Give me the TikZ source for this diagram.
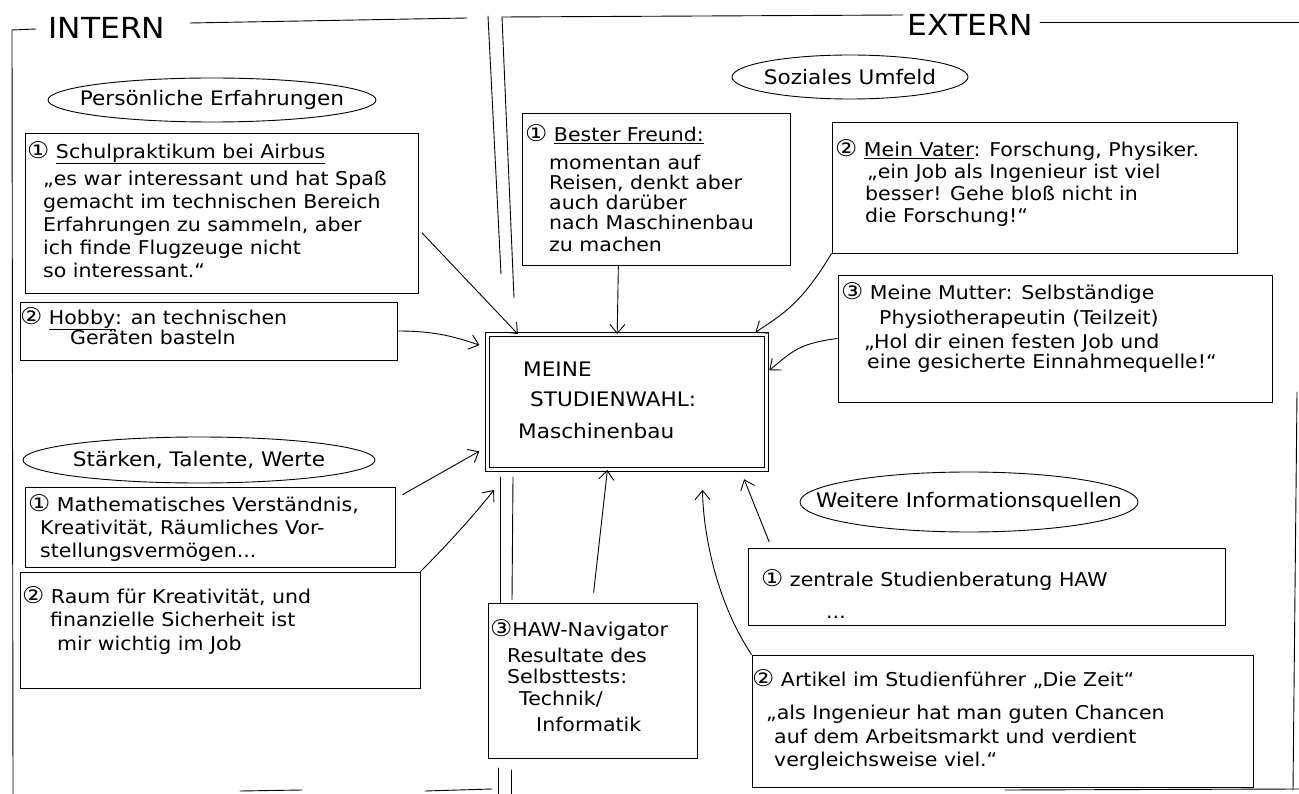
\documentclass[tikz,border=0pt]{standalone}
\usepackage{fontspec}
\setmainfont{DejaVu Sans}[FakeStretch=1.08]
\usetikzlibrary{calc,arrows.meta}

\newcommand{\nummer}[1]{{\fontsize{23}{23}\selectfont #1}}

\tikzset{
    strich/.style={line width=0.9pt, line cap=round},
    kasten/.style={draw, line width=0.9pt, inner sep=0pt},
    notiz/.style={anchor=north west, inner sep=0pt, align=left, font=\fontsize{19}{23}\selectfont},
    titel/.style={inner sep=0pt, font=\fontsize{20}{22}\selectfont},
    kopf/.style={inner sep=0pt, font=\fontsize{29}{30}\selectfont},
    pfeil/.style={-{Straight Barb[length=9pt,width=15pt]}, line width=0.9pt}
}

\begin{document}
\begin{tikzpicture}[x=1pt, y=-1pt]
    \useasboundingbox (0,0) rectangle (1299,794);
    \node [kopf] (intern) at (107,28) {INTERN};
    \node [kopf] (extern) at (970,25) {EXTERN};
    \draw [strich] (13,794) -- (12,30) -- (36,29);
    \draw [strich] (190,23) -- (467,18);
    \draw [strich] (488,16) -- (501,274);
    \draw [strich] (500,477) -- (500,603);
    \draw [strich] (498,768) -- (498,794);
    \draw [strich] (240,791) -- (302,790);
    \draw [strich] (425,791) -- (492,789);
    \draw [strich] (502,17) -- (903,15);
    \draw [strich] (1040,22) -- (1299,22);
    \draw [strich] (502,17) -- (514,298);
    \draw [strich] (513,477) -- (512,600);
    \draw [strich] (511,770) -- (511,794);
    \draw [strich] (1297,392) -- (1293,790);
    \draw [strich] (1005,790) -- (1299,789);

    \node [kasten, double, double distance=3pt, minimum width=279, minimum height=135] (wahl) at (627,402) {};
    \node [notiz, font=\fontsize{20}{30}\selectfont] (wahltext) at (518,362)
        {\hspace*{5pt}MEINE\\\hspace*{12pt}STUDIENWAHL:\\[2pt]Maschinenbau};

    \node [titel] (erfahrung) at (212,100) {Persönliche Erfahrungen};
    \draw [strich] (erfahrung) ellipse [x radius=164, y radius=22];
    \node [titel] (umfeld) at (850,77) {Soziales Umfeld};
    \draw [strich] (umfeld) ellipse [x radius=118, y radius=22];
    \node [titel] (staerken) at (199,460) {Stärken, Talente, Werte};
    \draw [strich] (staerken) ellipse [x radius=176, y radius=23];
    \node [titel] (quellen) at (969,502) {Weitere Informationsquellen};
    \draw [strich] (quellen) ellipse [x radius=169, y radius=30];

    \node [kasten, minimum width=393, minimum height=160] (praktikum) at (221.5,213) {};
    \node [notiz] (praktikumtext) at (27,141)
        {\nummer{①} \underline{Schulpraktikum bei Airbus}\\[4pt]\hspace*{16pt}„es war interessant und hat Spaß\\\hspace*{16pt}gemacht im technischen Bereich\\\hspace*{16pt}Erfahrungen zu sammeln, aber\\\hspace*{16pt}ich finde Flugzeuge nicht\\\hspace*{16pt}so interessant.“};
    \node [kasten, minimum width=377, minimum height=58] (hobby) at (208.5,331) {};
    \node [notiz] (hobbytext) at (20,307)
        {\nummer{②} \underline{Hobby}: an technischen\\[-3pt]\hspace*{50pt}Geräten basteln};
    \node [kasten, minimum width=370, minimum height=80] (mathe) at (210,527) {};
    \node [notiz] (mathetext) at (28,494)
        {\nummer{①} Mathematisches Verständnis,\\\hspace*{12pt}Kreativität, Räumliches Vor-\\\hspace*{12pt}stellungsvermögen...};
    \node [kasten, minimum width=400, minimum height=116] (raum) at (220,630) {};
    \node [notiz] (raumtext) at (22,586)
        {\nummer{②} Raum für Kreativität, und\\\hspace*{28pt}finanzielle Sicherheit ist\\[1pt]\hspace*{35pt}mir wichtig im Job};

    \node [kasten, minimum width=268, minimum height=152] (freund) at (656,189) {};
    \node [notiz] (freundtext) at (525,124)
        {\nummer{①} \underline{Bester Freund:}\\[5pt]\hspace*{24pt}momentan auf\\[-3pt]\hspace*{24pt}Reisen, denkt aber\\[-3pt]\hspace*{24pt}auch darüber\\[-3pt]\hspace*{24pt}nach Maschinenbau\\[-1pt]\hspace*{24pt}zu machen};
    \node [kasten, minimum width=405, minimum height=131] (vater) at (1034.5,187.5) {};
    \node [notiz] (vatertext) at (835,139)
        {\nummer{②} \underline{Mein Vater}: Forschung, Physiker.\\[-1pt]\hspace*{32pt}„ein Job als Ingenieur ist viel\\[-1pt]\hspace*{30pt}besser! Gehe bloß nicht in\\[-1pt]\hspace*{30pt}die Forschung!“};
    \node [kasten, minimum width=434, minimum height=127] (mutter) at (1055,338.5) {};
    \node [notiz] (muttertext) at (841,282)
        {\nummer{③} Meine Mutter: Selbständige\\[2pt]\hspace*{38pt}Physiotherapeutin (Teilzeit)\\[1pt]\hspace*{23pt}„Hol dir einen festen Job und\\[-3pt]\hspace*{26pt}eine gesicherte Einnahmequelle!“};

    \node [kasten, minimum width=209, minimum height=155] (navigator) at (592.5,680.5) {};
    \node [notiz] (navigatortext) at (490,619)
        {\nummer{③}HAW-Navigator\\[3pt]\hspace*{17pt}Resultate des\\[-2pt]\hspace*{17pt}Selbsttests:\\[-1pt]\hspace*{29pt}Technik/\\[3pt]\hspace*{46pt}Informatik};
    \node [kasten, minimum width=477, minimum height=77] (beratung) at (986.5,586.5) {};
    \node [notiz] (beratungtext) at (761,569)
        {\nummer{①} zentrale Studienberatung HAW\\[9pt]\hspace*{65pt}...};
    \node [kasten, minimum width=501, minimum height=132] (artikel) at (1002.5,721) {};
    \node [notiz] (artikeltext) at (752,669)
        {\nummer{②} Artikel im Studienführer „Die Zeit“\\[10pt]\hspace*{14pt}„als Ingenieur hat man guten Chancen\\[1pt]\hspace*{22pt}auf dem Arbeitsmarkt und verdient\\\hspace*{22pt}vergleichsweise viel.“};

    \draw [pfeil, shorten <=5pt] ($(praktikum.north east)!0.6!(praktikum.south east)$) -- ($(wahl.north west)!0.11!(wahl.north east)$);
    \draw [pfeil, shorten >=8pt] (hobby.east) .. controls +(40,0) and +(-30,-10) .. ($(wahl.north west)!0.1!(wahl.south west)$);
    \draw [pfeil, shorten <=8pt, shorten >=9pt] ($(mathe.north east)!0.15!(mathe.south east)$) -- ($(wahl.north west)!0.83!(wahl.south west)$);
    \draw [pfeil] (raum.north east) .. controls +(30,-30) and +(-20,25) .. ($(wahl.south west)+(7,20)$);
    \draw [pfeil, shorten <=10pt] (navigator.north) -- ($(wahl.south west)!0.43!(wahl.south east)$);
    \draw [pfeil, shorten >=20pt] (artikel.north west) .. controls +(-40,-60) and +(0,50) .. ($(wahl.south west)!0.77!(wahl.south east)$);
    \draw [pfeil, shorten <=6pt, shorten >=10pt] ($(beratung.north west)!0.05!(beratung.north east)$) -- ($(wahl.south west)!0.905!(wahl.south east)$);
    \draw [pfeil] ($(freund.south west)!0.36!(freund.south east)$) -- ($(wahl.north west)!0.465!(wahl.north east)$);
    \draw [pfeil, shorten >=3pt] (vater.south west) .. controls +(-30,50) and +(30,-20) .. ($(wahl.north west)!0.95!(wahl.north east)$);
    \draw [pfeil, shorten >=3pt] (mutter.west) .. controls +(-40,5) and +(25,-20) .. ($(wahl.north east)!0.28!(wahl.south east)$);
\end{tikzpicture}
\end{document}
